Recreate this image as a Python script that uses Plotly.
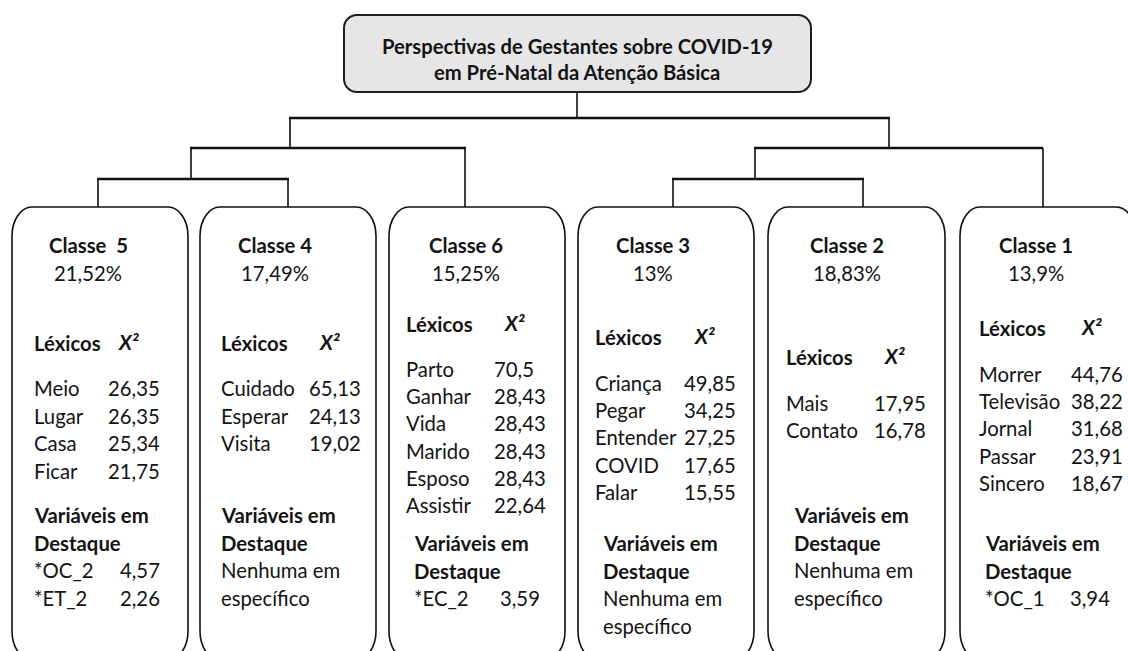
import plotly.graph_objects as go

# ---------------- data ----------------
title_lines = ["Perspectivas de Gestantes sobre COVID-19", "em Pré-Natal da Atenção Básica"]
class_names = ["Classe  5", "Classe 4", "Classe 6", "Classe 3", "Classe 2", "Classe 1"]
class_percents = [21.52, 17.49, 15.25, 13, 18.83, 13.9]

lex_words_c5 = ["Meio", "Lugar", "Casa", "Ficar"]
lex_chi_c5 = [26.35, 26.35, 25.34, 21.75]
lex_words_c4 = ["Cuidado", "Esperar", "Visita"]
lex_chi_c4 = [65.13, 24.13, 19.02]
lex_words_c6 = ["Parto", "Ganhar", "Vida", "Marido", "Esposo", "Assistir"]
lex_chi_c6 = [70.5, 28.43, 28.43, 28.43, 28.43, 22.64]
lex_words_c3 = ["Criança", "Pegar", "Entender", "COVID", "Falar"]
lex_chi_c3 = [49.85, 34.25, 27.25, 17.65, 15.55]
lex_words_c2 = ["Mais", "Contato"]
lex_chi_c2 = [17.95, 16.78]
lex_words_c1 = ["Morrer", "Televisão", "Jornal", "Passar", "Sincero"]
lex_chi_c1 = [44.76, 38.22, 31.68, 23.91, 18.67]

var_names_c5 = ["*OC_2", "*ET_2"]
var_vals_c5 = [4.57, 2.26]
var_names_c4 = []
var_vals_c4 = []
var_names_c6 = ["*EC_2"]
var_vals_c6 = [3.59]
var_names_c3 = []
var_vals_c3 = []
var_names_c2 = []
var_vals_c2 = []
var_names_c1 = ["*OC_1"]
var_vals_c1 = [3.94]

lex_words = [lex_words_c5, lex_words_c4, lex_words_c6, lex_words_c3, lex_words_c2, lex_words_c1]
lex_chi = [lex_chi_c5, lex_chi_c4, lex_chi_c6, lex_chi_c3, lex_chi_c2, lex_chi_c1]
var_names = [var_names_c5, var_names_c4, var_names_c6, var_names_c3, var_names_c2, var_names_c1]
var_vals = [var_vals_c5, var_vals_c4, var_vals_c6, var_vals_c3, var_vals_c2, var_vals_c1]

# ---------------- layout (pixel-like coordinates of the 1128x651 page) ----------------
W, H = 1128, 651
FONT = "Lato, Carlito, 'Liberation Sans', sans-serif"
TXT = "#141414"
FS = 20.3

box_left = [12, 200, 389, 578, 768, 960]
box_right = [188, 376, 565, 754, 945, 1136]
box_top, box_bot = 207, 660
head_cx = [88, 275, 466, 653, 847, 1036]
lex_x = [32, 219, 404, 593, 784, 977]
chi_x = [106, 307, 492, 682, 872, 1069]
lex_head_y = [343, 343, 324, 337, 357, 328]
lex_row0_y = [388, 388, 369, 383, 403, 374]
row_dy = [27.6, 27.6, 27.2, 27.2, 27.0, 27.2]
var_x = [32, 219, 412, 601, 792, 983]
var_y0 = [515, 515, 543, 543, 515, 543]
var_val_x = [118, 0, 498, 0, 0, 1068]


def fmt(v):
    return str(v).replace(".", ",")


def rounded_rect(x0, y0, x1, y1, rx, ry):
    k = 0.5523
    cx, cy = rx * (1 - k), ry * (1 - k)
    return (f"M {x0+rx},{y0} L {x1-rx},{y0} "
            f"C {x1-cx},{y0} {x1},{y0+cy} {x1},{y0+ry} L {x1},{y1-ry} "
            f"C {x1},{y1-cy} {x1-cx},{y1} {x1-rx},{y1} L {x0+rx},{y1} "
            f"C {x0+cx},{y1} {x0},{y1-cy} {x0},{y1-ry} L {x0},{y0+ry} "
            f"C {x0},{y0+cy} {x0+cx},{y0} {x0+rx},{y0} Z")


fig = go.Figure()
fig.add_trace(go.Scatter(x=[0, W], y=[0, H], mode="markers",
                         marker=dict(opacity=0), hoverinfo="skip", showlegend=False))

shapes = []
annots = []


def ann(x, y, text, size=FS, anchor="left", bold=False):
    t = f"<b>{text}</b>" if bold else text
    annots.append(dict(x=x, y=y, xref="x", yref="y", text=t, showarrow=False,
                       xanchor=anchor, yanchor="middle",
                       font=dict(family=FONT, size=size, color=TXT)))


# title box (rounded)
shapes.append(dict(type="path", path=rounded_rect(344, 15, 811, 92, 13, 13), xref="x", yref="y",
                   fillcolor="#e6e6e6", line=dict(color="#1e1e1e", width=2)))
ann(577, 46, title_lines[0], size=20.2, anchor="center", bold=True)
ann(577, 72, title_lines[1], size=20.2, anchor="center", bold=True)

# dendrogram
HL = dict(color="#111", width=2.6)
VL = dict(color="#111", width=1.6)


def hline(x0, x1, y):
    shapes.append(dict(type="line", x0=x0, x1=x1, y0=y, y1=y, xref="x", yref="y", line=HL))


def vline(x, y0, y1):
    shapes.append(dict(type="line", x0=x, x1=x, y0=y0, y1=y1, xref="x", yref="y", line=VL))


vline(577, 92, 118)
hline(289, 890, 118)
vline(290, 118, 148)
vline(889, 118, 148)
hline(190, 466, 148)
hline(754, 1043, 148)
vline(191, 148, 179)
vline(465, 148, 207)
vline(755, 148, 179)
vline(1043, 148, 207)
hline(97, 289, 179)
hline(672, 864, 179)
vline(98, 179, 207)
vline(288, 179, 207)
vline(673, 179, 207)
vline(863, 179, 207)

# class boxes
for i in range(6):
    shapes.append(dict(type="path",
                       path=rounded_rect(box_left[i], box_top, box_right[i], box_bot, 20, 29),
                       xref="x", yref="y",
                       fillcolor="rgba(0,0,0,0)", line=dict(color="#111", width=1.6)))

    ann(head_cx[i], 245, class_names[i], anchor="center", bold=True)
    ann(head_cx[i], 273, fmt(class_percents[i]) + "%", anchor="center")

    ann(lex_x[i], lex_head_y[i], "Léxicos", bold=True)
    ann(chi_x[i] + 10, lex_head_y[i] - 1, "<i>X²</i>", bold=True)

    for j, (w, c) in enumerate(zip(lex_words[i], lex_chi[i])):
        y = lex_row0_y[i] + j * row_dy[i]
        ann(lex_x[i], y, w)
        ann(chi_x[i], y, fmt(c))

    ann(var_x[i], var_y0[i], "Variáveis em", bold=True)
    ann(var_x[i], var_y0[i] + 27.5, "Destaque", bold=True)
    if var_names[i]:
        for j, (n, v) in enumerate(zip(var_names[i], var_vals[i])):
            y = var_y0[i] + 27.5 * (2 + j)
            ann(var_x[i], y, n)
            ann(var_val_x[i], y, fmt(v))
    else:
        ann(var_x[i], var_y0[i] + 27.5 * 2, "Nenhuma em")
        ann(var_x[i], var_y0[i] + 27.5 * 3, "específico")

fig.update_layout(
    width=W, height=H,
    margin=dict(l=0, r=0, t=0, b=0),
    paper_bgcolor="white", plot_bgcolor="white",
    xaxis=dict(range=[0, W], visible=False, fixedrange=True),
    yaxis=dict(range=[H, 0], visible=False, fixedrange=True),
    shapes=shapes, annotations=annots, showlegend=False,
)

fig.write_html(
    "out.html",
    config={"displayModeBar": False},
    post_script="document.body.style.margin='0';document.body.style.overflow='hidden';",
)
